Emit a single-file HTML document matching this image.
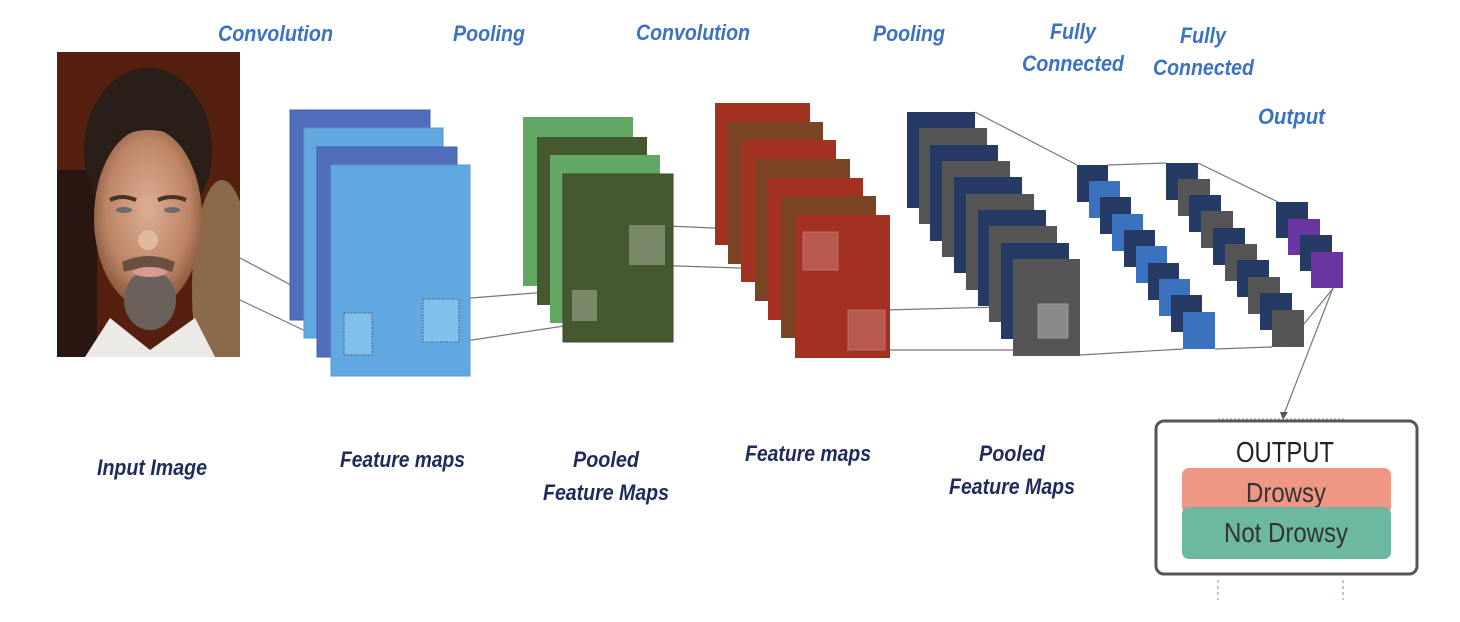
<!DOCTYPE html>
<html><head><meta charset="utf-8"><style>
html,body{margin:0;padding:0;background:#fff;}
svg{display:block;}
.t{font-family:"Liberation Sans",sans-serif;font-weight:bold;font-style:italic;font-size:22px;}
.b{fill:#3c72c4;}
.d{fill:#1f2b5c;}
</style></head><body>
<svg width="1460" height="622" viewBox="0 0 1460 622" xmlns="http://www.w3.org/2000/svg">
<defs>
<clipPath id="pc"><rect x="57" y="52" width="183" height="305"/></clipPath>
<radialGradient id="face" cx="0.5" cy="0.45" r="0.55"><stop offset="0" stop-color="#dcae92"/><stop offset="0.7" stop-color="#bd8466"/><stop offset="1" stop-color="#8a5a40"/></radialGradient>
</defs>
<!-- photo -->
<g clip-path="url(#pc)">
<rect x="57" y="52" width="183" height="305" fill="#55200f"/>
<rect x="57" y="170" width="40" height="187" fill="#2a1610"/>
<ellipse cx="222" cy="290" rx="30" ry="110" fill="#8a6a4a"/>
<ellipse cx="148" cy="150" rx="64" ry="82" fill="#2a1e18"/>
<ellipse cx="148" cy="218" rx="54" ry="90" fill="url(#face)"/>
<path d="M96 170 Q120 110 190 140 Q170 120 130 125 Q100 135 96 170 Z" fill="#2a1e18"/>
<path d="M110 200 Q122 194 136 200" stroke="#4a3020" stroke-width="4" fill="none"/>
<path d="M158 200 Q172 194 186 200" stroke="#4a3020" stroke-width="4" fill="none"/>
<ellipse cx="124" cy="210" rx="8" ry="3" fill="#6a6a70"/>
<ellipse cx="172" cy="210" rx="8" ry="3" fill="#6a6a70"/>
<ellipse cx="148" cy="240" rx="10" ry="10" fill="#e0b8a0"/>
<path d="M122 262 Q148 250 175 262 L172 272 Q148 264 124 272 Z" fill="#6a5040"/>
<ellipse cx="150" cy="300" rx="26" ry="30" fill="#6a625a"/>
<ellipse cx="150" cy="272" rx="17" ry="5" fill="#d89a90"/>
<path d="M85 357 L110 318 L150 350 L195 318 L215 357 Z" fill="#eceae6"/>
</g>
<!-- connector lines -->
<g stroke="#777" stroke-width="1.2" fill="none">
<line x1="240" y1="258" x2="344" y2="313"/>
<line x1="240" y1="300" x2="356" y2="355"/>
<line x1="459" y1="299" x2="572" y2="290"/>
<line x1="459" y1="342" x2="597" y2="321"/>
<line x1="645" y1="225" x2="803" y2="232"/>
<line x1="645" y1="265" x2="803" y2="270"/>
<line x1="885" y1="310" x2="1038" y2="306"/>
<line x1="885" y1="350" x2="1080" y2="350"/>
<line x1="975" y1="112" x2="1077" y2="165"/>
<line x1="1108" y1="165" x2="1166" y2="163"/>
<line x1="1198" y1="163" x2="1278" y2="202"/>
<line x1="1080" y1="355" x2="1183" y2="349"/>
<line x1="1215" y1="349" x2="1272" y2="347"/>
<line x1="1340" y1="280" x2="1285" y2="347"/>
<line x1="1333" y1="288" x2="1284" y2="414"/>
</g>
<polygon points="1280,412 1288,412 1283,420" fill="#555"/>
<!-- blue stack -->
<rect x="290" y="110" width="140" height="210" fill="#506ebc" stroke="#4560a8"/>
<rect x="304" y="128" width="139" height="210" fill="#62a8e0" stroke="#5a98cc"/>
<rect x="317" y="147" width="140" height="210" fill="#506ebc" stroke="#4560a8"/>
<rect x="331" y="165" width="139" height="211" fill="#62a8e0" stroke="#5a98cc"/>
<rect x="344" y="313" width="28" height="42" fill="#80c0ec" stroke="#667" stroke-dasharray="2,1"/>
<rect x="423" y="299" width="36" height="43" fill="#80c0ec" stroke="#667" stroke-dasharray="2,1"/>
<!-- green stack -->
<rect x="523" y="117" width="110" height="169" fill="#63a862"/>
<rect x="537" y="137" width="110" height="168" fill="#465830"/>
<rect x="550" y="155" width="110" height="168" fill="#63a862"/>
<rect x="563" y="174" width="110" height="168" fill="#465830" stroke="#3a4a28"/>
<rect x="572" y="290" width="25" height="31" fill="#7a8a68"/>
<rect x="629" y="225" width="36" height="40" fill="#7a8a68"/>
<!-- red stack -->
<g>
<rect x="715" y="103" width="95" height="142" fill="#a23122"/>
<rect x="728" y="122" width="95" height="142" fill="#7a4424"/>
<rect x="741" y="140" width="95" height="142" fill="#a23122"/>
<rect x="755" y="159" width="95" height="142" fill="#7a4424"/>
<rect x="768" y="178" width="95" height="142" fill="#a23122"/>
<rect x="781" y="196" width="95" height="142" fill="#7a4424"/>
<rect x="795" y="215" width="95" height="143" fill="#a23122"/>
<rect x="803" y="232" width="35" height="38" fill="#b85a50" stroke="#c07060"/>
<rect x="848" y="310" width="37" height="40" fill="#b85a50" stroke="#c07060"/>
</g>
<!-- navy/gray stack -->
<g>
<rect x="907" y="112" width="68" height="96" fill="#263a66"/>
<rect x="919" y="128" width="68" height="96" fill="#555555"/>
<rect x="930" y="145" width="68" height="96" fill="#263a66"/>
<rect x="942" y="161" width="68" height="96" fill="#555555"/>
<rect x="954" y="177" width="68" height="96" fill="#263a66"/>
<rect x="966" y="194" width="68" height="96" fill="#555555"/>
<rect x="978" y="210" width="68" height="96" fill="#263a66"/>
<rect x="989" y="226" width="68" height="96" fill="#555555"/>
<rect x="1001" y="243" width="68" height="96" fill="#263a66"/>
<rect x="1013" y="259" width="67" height="97" fill="#555555"/>
<rect x="1038" y="304" width="30" height="34" fill="#8a8a8a" stroke="#9a9a9a"/>
</g>
<!-- FC1 -->
<g>
<rect x="1077" y="165" width="31" height="37" fill="#263a66"/>
<rect x="1089" y="181" width="31" height="37" fill="#3a72c0"/>
<rect x="1100" y="197" width="31" height="37" fill="#263a66"/>
<rect x="1112" y="214" width="31" height="37" fill="#3a72c0"/>
<rect x="1124" y="230" width="31" height="37" fill="#263a66"/>
<rect x="1136" y="246" width="31" height="37" fill="#3a72c0"/>
<rect x="1148" y="263" width="31" height="37" fill="#263a66"/>
<rect x="1159" y="279" width="31" height="37" fill="#3a72c0"/>
<rect x="1171" y="295" width="31" height="37" fill="#263a66"/>
<rect x="1183" y="312" width="32" height="37" fill="#3a72c0"/>
</g>
<!-- FC2 -->
<g>
<rect x="1166" y="163" width="32" height="37" fill="#263a66"/>
<rect x="1178" y="179" width="32" height="37" fill="#555555"/>
<rect x="1189" y="195" width="32" height="37" fill="#263a66"/>
<rect x="1201" y="211" width="32" height="37" fill="#555555"/>
<rect x="1213" y="228" width="32" height="37" fill="#263a66"/>
<rect x="1225" y="244" width="32" height="37" fill="#555555"/>
<rect x="1237" y="260" width="32" height="37" fill="#263a66"/>
<rect x="1248" y="277" width="32" height="37" fill="#555555"/>
<rect x="1260" y="293" width="32" height="37" fill="#263a66"/>
<rect x="1272" y="310" width="32" height="37" fill="#555555"/>
</g>
<!-- output nodes -->
<rect x="1276" y="202" width="32" height="36" fill="#263a66"/>
<rect x="1288" y="219" width="32" height="36" fill="#6a35a0"/>
<rect x="1300" y="235" width="32" height="36" fill="#263a66"/>
<rect x="1311" y="252" width="32" height="36" fill="#6a35a0"/>
<!-- output box -->
<line x1="1218" y1="419" x2="1345" y2="419" stroke="#aab" stroke-dasharray="2,2"/>
<rect x="1156" y="421" width="261" height="153" rx="8" fill="#fff" stroke="#555" stroke-width="3"/>
<text x="1285" y="462" text-anchor="middle" font-family="Liberation Sans,sans-serif" font-size="29" fill="#222" textLength="98" lengthAdjust="spacingAndGlyphs">OUTPUT</text>
<rect x="1182" y="468" width="209" height="46" rx="7" fill="#ef9684"/>
<text x="1286" y="502" text-anchor="middle" font-family="Liberation Sans,sans-serif" font-size="28" fill="#333" textLength="80" lengthAdjust="spacingAndGlyphs">Drowsy</text>
<rect x="1182" y="507" width="209" height="52" rx="7" fill="#6cb8a0"/>
<text x="1286" y="542" text-anchor="middle" font-family="Liberation Sans,sans-serif" font-size="28" fill="#333" textLength="124" lengthAdjust="spacingAndGlyphs">Not Drowsy</text>
<line x1="1218" y1="580" x2="1218" y2="600" stroke="#88a" stroke-dasharray="3,3"/>
<line x1="1343" y1="580" x2="1343" y2="600" stroke="#88a" stroke-dasharray="3,3"/>
<!-- labels -->
<g class="t b">
<text x="218" y="41" textLength="115" lengthAdjust="spacingAndGlyphs">Convolution</text>
<text x="453" y="41" textLength="72" lengthAdjust="spacingAndGlyphs">Pooling</text>
<text x="636" y="40" textLength="114" lengthAdjust="spacingAndGlyphs">Convolution</text>
<text x="873" y="41" textLength="72" lengthAdjust="spacingAndGlyphs">Pooling</text>
<text x="1050" y="39" textLength="46" lengthAdjust="spacingAndGlyphs">Fully</text>
<text x="1022" y="71" textLength="102" lengthAdjust="spacingAndGlyphs">Connected</text>
<text x="1180" y="43" textLength="46" lengthAdjust="spacingAndGlyphs">Fully</text>
<text x="1153" y="75" textLength="101" lengthAdjust="spacingAndGlyphs">Connected</text>
<text x="1258" y="124" textLength="67" lengthAdjust="spacingAndGlyphs">Output</text>
</g>
<g class="t d">
<text x="97" y="475" textLength="110" lengthAdjust="spacingAndGlyphs">Input Image</text>
<text x="340" y="467" textLength="125" lengthAdjust="spacingAndGlyphs">Feature maps</text>
<text x="573" y="467" textLength="66" lengthAdjust="spacingAndGlyphs">Pooled</text>
<text x="543" y="500" textLength="126" lengthAdjust="spacingAndGlyphs">Feature Maps</text>
<text x="745" y="461" textLength="126" lengthAdjust="spacingAndGlyphs">Feature maps</text>
<text x="979" y="461" textLength="66" lengthAdjust="spacingAndGlyphs">Pooled</text>
<text x="949" y="494" textLength="126" lengthAdjust="spacingAndGlyphs">Feature Maps</text>
</g>
</svg>
</body></html>
